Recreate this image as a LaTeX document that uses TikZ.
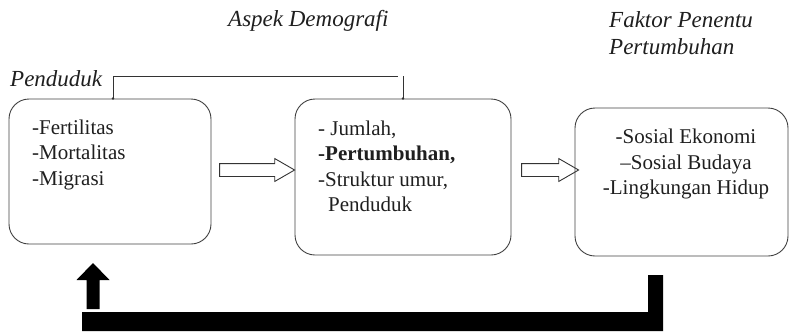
\documentclass[tikz,border=0pt]{standalone}
\usepackage{fontspec}
\setmainfont{Liberation Serif}
\usetikzlibrary{shapes.arrows}
\begin{document}
\begin{tikzpicture}[x=1pt, y=-1pt,
  kotak/.style={draw=black!75, line width=0.9pt, rounded corners=20pt},
  isi/.style={inner sep=0pt, align=left, text=black!88, font=\fontsize{21}{25.5}\selectfont},
  judul/.style={inner sep=0pt, text=black!88, font=\fontsize{23}{27}\selectfont\itshape},
  panah/.style={draw=black!80, line width=0.9pt, shape=single arrow, single arrow head extend=5pt,
    single arrow tip angle=60, inner xsep=0pt, inner ysep=6pt},
  garis/.style={draw=black!80, line width=0.8pt}]
\useasboundingbox (0,0) rectangle (790,333);
\node[kotak, minimum width=202pt, minimum height=145pt] (B1) at (110,171.5) {};
\node[kotak, minimum width=216pt, minimum height=156pt] (B2) at (403,177) {};
\node[kotak, minimum width=213pt, minimum height=148pt] (B3) at (681.5,182) {};
\node[isi, anchor=north west] (T1) at (32,119.7) {-Fertilitas\\-Mortalitas\\-Migrasi};
\node[isi, anchor=north west] (T2) at (318,120.7) {- Jumlah,\\\textbf{-Pertumbuhan,}\\-Struktur umur,\\\hspace*{10pt}Penduduk};
\node[isi, align=center, anchor=north] (T3) at (686,129.2) {-Sosial Ekonomi\\\textendash Sosial Budaya\\-Lingkungan Hidup};
\node[judul, anchor=base west] (J1) at (228,26) {Aspek Demografi};
\node[judul, align=left, anchor=north west] (J2) at (609,11.3) {Faktor Penentu\\Pertumbuhan};
\node[judul, anchor=base west] (J3) at (10,86) {Penduduk};
\node[panah, minimum height=75pt] (A1) at (251.5,170) {};
\node[panah, minimum height=57pt] (A2) at (544.5,170) {};
\coordinate (kiri) at (113,76);
\coordinate (kanan) at (398,76);
\draw[garis] (B1.north -| kiri) -- (kiri) -- (kanan);
\draw[garis] (B2.north) -- (B2.north |- kanan);
\fill[black!80] (B1.north -| kiri) circle (1.4pt);
\fill[black!80] (B2.north) circle (1.4pt);
\coordinate (ujung) at (93,263);
\coordinate (pojok) at (663,331);
\fill (ujung) -- ++(16.5,17) -- ++(-10,0) -- ++(0,29) -- ++(-13,0) -- ++(0,-29) -- ++(-10,0) -- cycle;
\fill (pojok) -- ++(0,-56) -- ++(-15,0) -- ++(0,37) -- (82,312) -- (82,331) -- cycle;
\end{tikzpicture}
\end{document}
